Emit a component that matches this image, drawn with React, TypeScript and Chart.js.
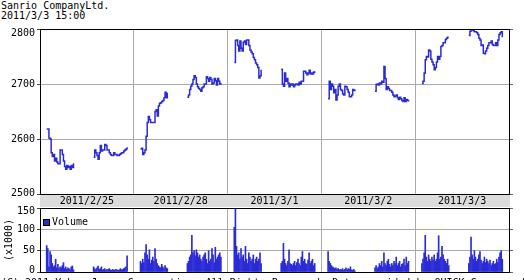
import React, { useEffect, useRef } from "react";
import { Chart, registerables } from "chart.js";

Chart.register(...registerables);

const titleText = "Sanrio CompanyLtd.";
const stampText = "2011/3/3 15:00";
const copyrightText = "(C) 2011 Yahoo Japan Corporation. All Rights Reserved. Data provided by QUICK Corp. and Tokyo Stock Exchange";

const dayLabels = ["2011/2/25", "2011/2/28", "2011/3/1", "2011/3/2", "2011/3/3"];
const priceTicks = [2500, 2600, 2700, 2800];
const volumeTicks = [0, 50, 100, 150];
const volumeLabel = "Volume";
const volumeUnit = "(x1000)";

// minutes: each day axis spans 8:30-15:30
const DAY_MIN = 420;
const AM_START = 30;
const AM_LEN = 120;
const PM_START = 240;
const PM_LEN = 150;

const p0225am = [2618, 2618, 2602, 2600, 2575, 2568, 2572, 2560, 2565, 2558, 2555, 2555, 2580, 2580, 2572, 2560, 2550, 2545, 2552, 2548, 2550, 2545, 2552, 2548, 2556];
const p0225pm = [2567, 2580, 2575, 2570, 2563, 2575, 2588, 2578, 2580, 2580, 2590, 2588, 2580, 2580, 2575, 2572, 2570, 2570, 2575, 2572, 2572, 2570, 2570, 2572, 2573, 2575, 2575, 2578, 2580, 2582, 2585];
const p0228am = [2582, 2583, 2572, 2575, 2580, 2605, 2630, 2641, 2635, 2630, 2630, 2630, 2630, 2650, 2653, 2642, 2660, 2665, 2666, 2668, 2670, 2675, 2685, 2675, 2684];
const p0228pm = [2676, 2680, 2690, 2696, 2700, 2708, 2715, 2712, 2700, 2695, 2692, 2690, 2687, 2693, 2695, 2700, 2700, 2713, 2710, 2705, 2712, 2708, 2700, 2702, 2710, 2706, 2698, 2710, 2705, 2700, 2702];
const p0301am = [2739, 2779, 2780, 2770, 2760, 2778, 2765, 2760, 2776, 2778, 2772, 2780, 2780, 2770, 2762, 2758, 2755, 2748, 2744, 2738, 2735, 2730, 2711, 2715, 2726];
const p0301pm = [2727, 2700, 2696, 2720, 2705, 2710, 2702, 2695, 2700, 2698, 2700, 2695, 2698, 2700, 2700, 2698, 2703, 2700, 2705, 2705, 2723, 2723, 2720, 2717, 2720, 2725, 2718, 2720, 2718, 2722, 2720];
const p0302am = [2673, 2705, 2690, 2700, 2696, 2684, 2690, 2671, 2680, 2696, 2700, 2690, 2688, 2682, 2680, 2696, 2695, 2690, 2685, 2677, 2677, 2680, 2690, 2688, 2690];
const p0302pm = [2687, 2699, 2700, 2698, 2702, 2700, 2705, 2703, 2732, 2710, 2690, 2695, 2692, 2688, 2688, 2685, 2680, 2677, 2678, 2680, 2675, 2672, 2676, 2673, 2670, 2668, 2675, 2668, 2672, 2670, 2668];
const p0303am = [2701, 2705, 2720, 2744, 2750, 2749, 2762, 2760, 2745, 2740, 2735, 2726, 2730, 2740, 2750, 2745, 2750, 2768, 2770, 2775, 2775, 2781, 2783, 2785, 2785];
const p0303pm = [2788, 2796, 2798, 2798, 2797, 2795, 2795, 2793, 2790, 2783, 2780, 2770, 2771, 2756, 2755, 2760, 2765, 2770, 2775, 2775, 2778, 2772, 2770, 2770, 2775, 2770, 2780, 2790, 2793, 2795, 2785];

const v0225am = [62, 55, 12, 48, 40, 20, 12, 15, 30, 10, 18, 8, 12, 10, 15, 22, 8, 12, 6, 10, 8, 5, 12, 14, 5];
const v0225pm = [12, 8, 5, 10, 14, 6, 8, 12, 5, 6, 8, 4, 6, 5, 8, 5, 4, 6, 5, 4, 6, 5, 4, 5, 8, 5, 6, 8, 10, 12, 38];
const v0228am = [25, 20, 30, 22, 45, 64, 40, 30, 52, 20, 28, 35, 25, 55, 30, 20, 15, 12, 10, 18, 12, 8, 15, 10, 8];
const v0228pm = [20, 25, 35, 40, 86, 45, 50, 38, 52, 45, 35, 40, 30, 25, 35, 40, 45, 30, 20, 50, 25, 30, 55, 40, 22, 58, 30, 35, 40, 45, 35];
const v0301am = [105, 150, 60, 40, 45, 30, 55, 35, 40, 25, 60, 30, 20, 45, 35, 25, 30, 40, 20, 30, 35, 25, 30, 45, 20];
const v0301pm = [20, 25, 67, 30, 20, 15, 25, 52, 20, 18, 15, 20, 25, 15, 22, 30, 20, 15, 35, 48, 25, 30, 20, 18, 28, 45, 20, 25, 30, 15, 20];
const v0302am = [48, 25, 20, 15, 12, 10, 8, 10, 6, 8, 5, 6, 5, 8, 4, 6, 10, 5, 8, 6, 12, 5, 4, 6, 3];
const v0302pm = [10, 15, 8, 12, 20, 15, 25, 12, 45, 20, 15, 25, 30, 18, 12, 20, 15, 25, 20, 35, 15, 20, 25, 12, 18, 20, 30, 15, 35, 20, 25];
const v0303am = [20, 30, 45, 86, 35, 25, 40, 30, 25, 35, 28, 40, 25, 30, 45, 85, 30, 35, 60, 40, 30, 25, 20, 30, 15];
const v0303pm = [20, 35, 82, 40, 30, 50, 35, 25, 30, 40, 48, 28, 20, 25, 35, 22, 30, 25, 20, 28, 15, 20, 25, 18, 20, 30, 22, 35, 45, 50, 30];

const priceSessions = [
  [p0225am, p0225pm],
  [p0228am, p0228pm],
  [p0301am, p0301pm],
  [p0302am, p0302pm],
  [p0303am, p0303pm],
];
const volumeSessions = [
  [v0225am, v0225pm],
  [v0228am, v0228pm],
  [v0301am, v0301pm],
  [v0302am, v0302pm],
  [v0303am, v0303pm],
];

const FONT_FAMILY = "'DejaVu Sans Mono', monospace";
const GRID = "#aaaaaa";
const BLUE = "#2b2bd6";

function sessionPoints(day: number, start: number, len: number, vals: number[]) {
  return vals.map((v, i) => ({ x: day * DAY_MIN + start + (i * len) / (vals.length - 1), y: v }));
}

function buildSeries(sessions: number[][][], withBreaks: boolean) {
  const out: { x: number; y: number | null }[] = [];
  sessions.forEach(([am, pm], d) => {
    out.push(...sessionPoints(d, AM_START, AM_LEN, am));
    if (withBreaks) out.push({ x: d * DAY_MIN + AM_START + AM_LEN + 1, y: null });
    out.push(...sessionPoints(d, PM_START, PM_LEN, pm));
    if (withBreaks) out.push({ x: d * DAY_MIN + PM_START + PM_LEN + 1, y: null });
  });
  return out;
}

const dayBoundaryTicks = (s: any) => {
  s.ticks = dayLabels.map((_, i) => ({ value: i * DAY_MIN })).concat([{ value: dayLabels.length * DAY_MIN }]);
};

const plainLabel = (v: any) => String(v);

const frame = {
  id: "frame",
  afterDatasetsDraw(chart: any) {
    const { left, top, right, bottom } = chart.chartArea;
    const ctx = chart.ctx;
    ctx.save();
    ctx.strokeStyle = "#000";
    ctx.lineWidth = 1;
    ctx.strokeRect(Math.round(left) + 0.5, Math.round(top) + 0.5, Math.round(right - left), Math.round(bottom - top));
    ctx.restore();
  },
};

function edgeLabels(shiftLow: number, shiftHigh: number) {
  return {
    id: "edgeLabels",
    beforeDraw(chart: any) {
      try {
        const s = chart.scales.y;
        const items = s.getLabelItems();
        if (items && items.length > 1) {
          items[0].options.translation[1] -= shiftLow;
          items[items.length - 1].options.translation[1] += shiftHigh;
        }
      } catch (e) {
        /* ignore */
      }
    },
  };
}

const band = {
  id: "band",
  beforeDraw(chart: any) {
    const { left, right, bottom } = chart.chartArea;
    const ctx = chart.ctx;
    ctx.save();
    ctx.fillStyle = "#dcdcdc";
    ctx.fillRect(left, bottom, right - left + 1, 13);
    ctx.restore();
  },
};

const legendBox = {
  id: "legendBox",
  afterDatasetsDraw(chart: any) {
    const { left, top } = chart.chartArea;
    const ds = chart.data.datasets[0];
    const ctx = chart.ctx;
    ctx.save();
    ctx.fillStyle = ds.backgroundColor;
    ctx.fillRect(left + 3, top + 11, 7, 7);
    ctx.strokeStyle = "#000";
    ctx.lineWidth = 1;
    ctx.strokeRect(left + 3.5, top + 11.5, 6, 6);
    ctx.fillStyle = "#000";
    ctx.font = "10px " + FONT_FAMILY;
    ctx.textBaseline = "middle";
    ctx.fillText(ds.label, left + 12, top + 14.5);
    ctx.restore();
  },
};

export default function App() {
  const priceRef = useRef<HTMLCanvasElement | null>(null);
  const volRef = useRef<HTMLCanvasElement | null>(null);

  useEffect(() => {
    const font = { family: FONT_FAMILY, size: 10 };
    const maxX = dayLabels.length * DAY_MIN;

    const priceChart = new Chart(priceRef.current as HTMLCanvasElement, {
      type: "line",
      data: {
        datasets: [
          {
            label: "Price",
            data: buildSeries(priceSessions, true) as any,
            borderColor: BLUE,
            borderWidth: 1.5,
            pointRadius: 0,
            stepped: true,
            spanGaps: false,
          },
        ],
      },
      options: {
        responsive: false,
        animation: false,
        events: [],
        layout: { padding: { top: 29, left: 0, right: 0, bottom: 0 } },
        plugins: { legend: { display: false }, tooltip: { enabled: false } },
        scales: {
          x: {
            type: "linear",
            min: 0,
            max: maxX,
            offset: false,
            afterBuildTicks: dayBoundaryTicks,
            ticks: { display: false },
            grid: { color: GRID, drawTicks: false, offset: false },
            border: { display: false },
            afterFit: (s: any) => {
              s.height = 0;
            },
          },
          xd: {
            type: "linear",
            position: "bottom",
            min: 0,
            max: maxX,
            offset: false,
            afterBuildTicks: (s: any) => {
              s.ticks = dayLabels.map((_, i) => ({ value: (i + 0.5) * DAY_MIN }));
            },
            ticks: {
              font,
              color: "#000",
              padding: 1,
              maxRotation: 0,
              autoSkip: false,
              callback: (_v: any, i: number) => dayLabels[i],
            },
            grid: { display: false, drawTicks: false },
            border: { display: false },
            afterFit: (s: any) => {
              s.height = 14;
            },
          },
          y: {
            min: priceTicks[0],
            max: priceTicks[priceTicks.length - 1],
            afterBuildTicks: (s: any) => {
              s.ticks = priceTicks.map((v) => ({ value: v }));
            },
            ticks: { font, color: "#000", padding: 2, callback: plainLabel },
            grid: { color: GRID, tickLength: 3, tickColor: "#444" },
            border: { display: false },
            afterFit: (s: any) => {
              s.width = 40;
            },
          },
          yr: {
            position: "right",
            min: priceTicks[0],
            max: priceTicks[priceTicks.length - 1],
            afterBuildTicks: (s: any) => {
              s.ticks = priceTicks.map((v) => ({ value: v }));
            },
            ticks: { display: false },
            grid: { drawOnChartArea: false, tickLength: 4, tickColor: "#666" },
            border: { display: false },
            afterFit: (s: any) => {
              s.width = 16;
            },
          },
        },
      } as any,
      plugins: [band, frame, edgeLabels(1, 4)],
    });

    const volChart = new Chart(volRef.current as HTMLCanvasElement, {
      type: "bar",
      data: {
        datasets: [
          {
            label: volumeLabel,
            data: buildSeries(volumeSessions, false) as any,
            backgroundColor: BLUE,
            barThickness: 1,
            borderWidth: 0,
          },
        ],
      },
      options: {
        responsive: false,
        animation: false,
        events: [],
        layout: { padding: { top: 7, left: 0, right: 0, bottom: 7 } },
        plugins: { legend: { display: false }, tooltip: { enabled: false } },
        scales: {
          x: {
            type: "linear",
            min: 0,
            max: maxX,
            offset: false,
            afterBuildTicks: dayBoundaryTicks,
            ticks: { display: false },
            grid: { color: GRID, drawTicks: false, offset: false },
            border: { display: false },
            afterFit: (s: any) => {
              s.height = 0;
            },
          },
          y: {
            min: volumeTicks[0],
            max: volumeTicks[volumeTicks.length - 1],
            afterBuildTicks: (s: any) => {
              s.ticks = volumeTicks.map((v) => ({ value: v }));
            },
            ticks: { font, color: "#000", padding: 2, callback: plainLabel },
            grid: { color: GRID, tickLength: 3, tickColor: "#444" },
            border: { display: false },
            title: { display: true, text: volumeUnit, font, color: "#000", padding: { top: 3, bottom: 0 } },
            afterFit: (s: any) => {
              s.width = 40;
            },
          },
          yr: {
            position: "right",
            min: volumeTicks[0],
            max: volumeTicks[volumeTicks.length - 1],
            afterBuildTicks: (s: any) => {
              s.ticks = volumeTicks.map((v) => ({ value: v }));
            },
            ticks: { display: false },
            grid: { drawOnChartArea: false, tickLength: 4, tickColor: "#666" },
            border: { display: false },
            afterFit: (s: any) => {
              s.width = 16;
            },
          },
        },
      } as any,
      plugins: [frame, legendBox, edgeLabels(2, 3)],
    });

    return () => {
      priceChart.destroy();
      volChart.destroy();
    };
  }, []);

  const textStyle: React.CSSProperties = {
    position: "absolute",
    left: 1,
    fontFamily: FONT_FAMILY,
    fontSize: 10,
    lineHeight: "10px",
    color: "#000",
    whiteSpace: "nowrap",
  };

  return (
    <div
      style={{
        position: "fixed",
        left: 0,
        top: 0,
        width: 525,
        height: 280,
        background: "#fff",
        overflow: "hidden",
      }}
    >
      <div style={{ ...textStyle, top: 1 }}>{titleText}</div>
      <div style={{ ...textStyle, top: 11 }}>{stampText}</div>
      <canvas ref={priceRef} width={525} height={208} style={{ position: "absolute", left: 0, top: 0 }} />
      <canvas ref={volRef} width={525} height={80} style={{ position: "absolute", left: 0, top: 200 }} />
      <div style={{ ...textStyle, top: 278 }}>{copyrightText}</div>
    </div>
  );
}
